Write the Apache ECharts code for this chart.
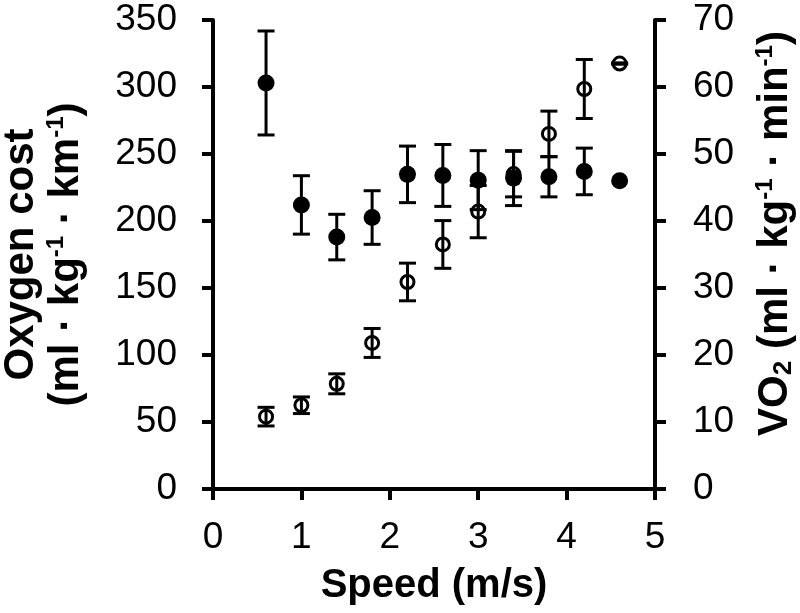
<!DOCTYPE html>
<html>
<head>
<meta charset="utf-8">
<script src="https://cdn.jsdelivr.net/npm/echarts@6/dist/echarts.min.js"></script>
<style>html,body{margin:0;padding:0;background:#fff;}#c{width:800px;height:613px;}</style>
</head>
<body>
<div id="c"></div>
<script>
// Data
var speeds = [0.6, 1.0, 1.4, 1.8, 2.2, 2.6, 3.0, 3.4, 3.8, 4.2, 4.6];
var oxygenCost = [303, 212, 188, 202.6, 234.8, 234, 230.5, 232, 233, 237, 230];
var oxygenCostSD = [38.8, 21.8, 17, 20, 21.1, 23.1, 22, 20.5, 15, 17.4, 0];
var vo2 = [10.8, 12.5, 15.7, 21.8, 30.9, 36.5, 41.4, 47.0, 53.0, 59.7, 63.5];
var vo2SD = [1.39, 1.24, 1.49, 2.16, 2.81, 3.56, 3.9, 3.4, 3.4, 4.4, 0.1];
var xTicks = [0, 1, 2, 3, 4, 5];

function pairs(xs, ys) { return xs.map(function (x, i) { return [x, ys[i]]; }); }
function errData(xs, ys, sd) {
  return xs.map(function (x, i) { return [x, ys[i] - sd[i], ys[i] + sd[i]]; })
           .filter(function (d, i) { return sd[i] > 0; });
}

function errRender(params, api) {
  var x = api.value(0);
  var lo = api.coord([x, api.value(1)]);
  var hi = api.coord([x, api.value(2)]);
  var hw = 8.5;
  var st = { stroke: '#000', lineWidth: 3 };
  return {
    type: 'group',
    children: [
      { type: 'line', shape: { x1: lo[0], y1: lo[1], x2: hi[0], y2: hi[1] }, style: st },
      { type: 'line', shape: { x1: lo[0] - hw, y1: lo[1], x2: lo[0] + hw, y2: lo[1] }, style: st },
      { type: 'line', shape: { x1: hi[0] - hw, y1: hi[1], x2: hi[0] + hw, y2: hi[1] }, style: st }
    ]
  };
}

var FONT = '"Liberation Sans", Arial, sans-serif';
var axisLine = { show: true, lineStyle: { color: '#000', width: 4 } };
var axisTick = { show: true, inside: false, length: 11, lineStyle: { color: '#000', width: 4 } };
var nameRich = {
  sup: { fontSize: 24, fontWeight: 'bold', fontFamily: FONT, color: '#000', verticalAlign: 'top', lineHeight: 26 },
  sub: { fontSize: 26, fontWeight: 'bold', fontFamily: FONT, color: '#000', verticalAlign: 'bottom', lineHeight: 26 }
};

var chart = echarts.init(document.getElementById('c'), null, { renderer: 'canvas' });
chart.setOption({
  animation: false,
  backgroundColor: '#fff',
  grid: { left: 213, right: 145, top: 20, bottom: 124, outerBoundsMode: 'none' },
  xAxis: {
    type: 'value', min: xTicks[0], max: xTicks[xTicks.length - 1], interval: 1,
    axisLine: axisLine, axisTick: axisTick, splitLine: { show: false },
    axisLabel: { margin: 30, color: '#000', fontSize: 37, fontFamily: FONT },
    name: 'Speed (m/s)', nameLocation: 'middle', nameGap: 77,
    nameTextStyle: { color: '#000', fontSize: 40, fontWeight: 'bold', fontFamily: FONT }
  },
  yAxis: [
    {
      type: 'value', position: 'left', min: 0, max: 350, interval: 50,
      axisLine: axisLine, axisTick: axisTick, splitLine: { show: false },
      axisLabel: { margin: 36, color: '#000', fontSize: 37, fontFamily: FONT },
      name: 'Oxygen cost\n(ml · kg{sup|-1} · km{sup|-1})', nameLocation: 'middle', nameRotate: 90, nameGap: 124,
      nameTextStyle: { color: '#000', fontSize: 42, fontWeight: 'bold', fontFamily: FONT, lineHeight: 45, rich: nameRich }
    },
    {
      type: 'value', position: 'right', min: 0, max: 70, interval: 10,
      axisLine: axisLine, axisTick: axisTick, splitLine: { show: false },
      axisLabel: { margin: 38, color: '#000', fontSize: 37, fontFamily: FONT },
      name: 'VO{sub|2} (ml · kg{sup|-1} · min{sup|-1})', nameLocation: 'middle', nameRotate: 90, nameGap: 98,
      nameTextStyle: { color: '#000', fontSize: 42, fontWeight: 'bold', fontFamily: FONT, lineHeight: 44, padding: [0, 0, 0, 42], rich: nameRich }
    }
  ],
  series: [
    {
      type: 'custom', yAxisIndex: 1, renderItem: errRender, z: 2,
      data: errData(speeds, vo2, vo2SD), encode: { x: 0, y: [1, 2] }, silent: true
    },
    {
      type: 'scatter', yAxisIndex: 1, symbol: 'circle', symbolSize: 13, z: 3,
      itemStyle: { color: 'transparent', borderColor: '#000', borderWidth: 3, opacity: 1 },
      data: pairs(speeds, vo2), silent: true
    },
    {
      type: 'custom', yAxisIndex: 0, renderItem: errRender, z: 4,
      data: errData(speeds, oxygenCost, oxygenCostSD), encode: { x: 0, y: [1, 2] }, silent: true
    },
    {
      type: 'scatter', yAxisIndex: 0, symbol: 'circle', symbolSize: 17, z: 5,
      itemStyle: { color: '#000', opacity: 1 },
      data: pairs(speeds, oxygenCost), silent: true
    }
  ]
});
</script>
</body>
</html>
